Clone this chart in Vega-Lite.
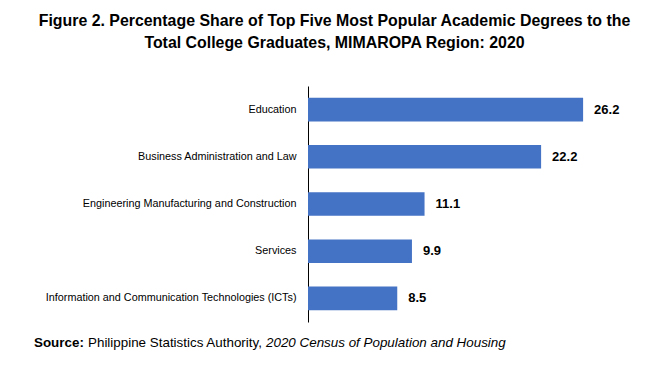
{
  "$schema": "https://vega.github.io/schema/vega-lite/v6.json",
  "autosize": {"type": "none"},
  "width": 315,
  "height": 236,
  "padding": {"left": 308, "top": 86, "right": 40, "bottom": 53},
  "background": "white",
  "config": {"view": {"stroke": null}},
  "title": {
    "text": ["Figure 2. Percentage Share of Top Five Most Popular Academic Degrees to the", "Total College Graduates, MIMAROPA Region: 2020"],
    "anchor": "middle",
    "dx": -131,
    "offset": 35,
    "font": "Liberation Sans",
    "fontSize": 15.9,
    "fontWeight": "bold",
    "color": "black",
    "lineHeight": 22
  },
  "layer": [
    {
      "data": {"values": [
        {"degree": "Education", "share": 26.2},
        {"degree": "Business Administration and Law", "share": 22.2},
        {"degree": "Engineering Manufacturing and Construction", "share": 11.1},
        {"degree": "Services", "share": 9.9},
        {"degree": "Information and Communication Technologies (ICTs)", "share": 8.5}
      ]},
      "encoding": {
        "y": {"field": "degree", "type": "nominal", "sort": null,
          "scale": {"paddingInner": 0.5, "paddingOuter": 0.25},
          "axis": {"title": null, "ticks": false, "labelPadding": 12, "domainColor": "black", "domainWidth": 1,
            "labelFont": "Liberation Sans", "labelFontSize": 10.8, "labelColor": "black", "labelLimit": 400}},
        "x": {"field": "share", "type": "quantitative", "scale": {"domain": [0, 30]}, "axis": null}
      },
      "layer": [
        {"mark": {"type": "bar", "color": "#4472C4"}},
        {"mark": {"type": "text", "align": "left", "dx": 11, "font": "Liberation Sans", "fontSize": 13, "fontWeight": "bold", "color": "black"},
          "encoding": {"text": {"field": "share", "type": "quantitative", "format": ".1f"}}}
      ]
    },
    {
      "data": {"values": [{"t": "Source:"}]},
      "mark": {"type": "text", "align": "left", "baseline": "middle", "x": -274, "y": 257, "font": "Liberation Sans", "fontSize": 13.4, "fontWeight": "bold", "color": "black"},
      "encoding": {"text": {"field": "t"}}
    },
    {
      "data": {"values": [{"t": "Philippine Statistics Authority,"}]},
      "mark": {"type": "text", "align": "left", "baseline": "middle", "x": -220, "y": 257, "font": "Liberation Sans", "fontSize": 13.4, "color": "black"},
      "encoding": {"text": {"field": "t"}}
    },
    {
      "data": {"values": [{"t": "2020 Census of Population and Housing"}]},
      "mark": {"type": "text", "align": "left", "baseline": "middle", "x": -42, "y": 257, "font": "Liberation Sans", "fontSize": 13.4, "fontStyle": "italic", "color": "black"},
      "encoding": {"text": {"field": "t"}}
    }
  ]
}
